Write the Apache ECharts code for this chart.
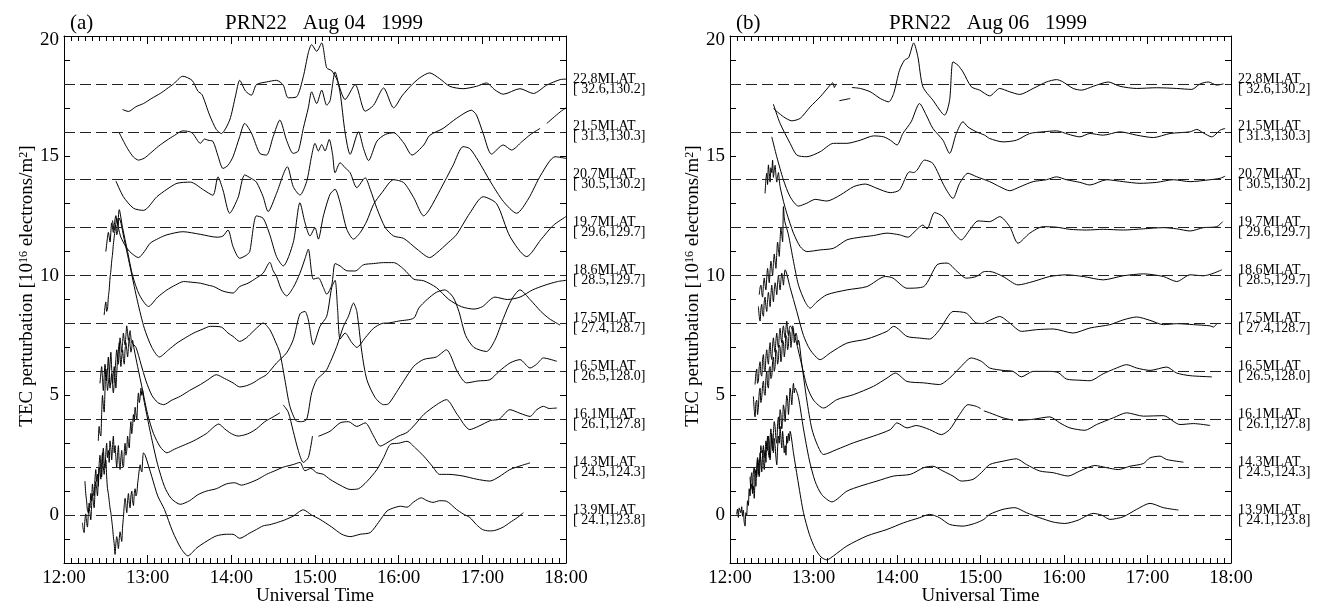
<!DOCTYPE html>
<html><head><meta charset="utf-8">
<script src="https://cdn.jsdelivr.net/npm/echarts@6/dist/echarts.min.js"></script>
<style>html,body{margin:0;padding:0;background:#fff}#c{width:1325px;height:608px}</style>
</head><body><div id="c"></div>
<script>
const hours = [12,13,14,15,16,17,18];
const hourLabels = ['12:00','13:00','14:00','15:00','16:00','17:00','18:00'];
const yTickLabels = [0,5,10,15,20];
const baselines = [0,2,4,6,8,10,12,14,16,18];
const stationLabels = ['13.9MLAT\n[ 24.1,123.8]','14.3MLAT\n[ 24.5,124.3]','16.1MLAT\n[ 26.1,127.8]','16.5MLAT\n[ 26.5,128.0]','17.5MLAT\n[ 27.4,128.7]','18.6MLAT\n[ 28.5,129.7]','19.7MLAT\n[ 29.6,129.7]','20.7MLAT\n[ 30.5,130.2]','21.5MLAT\n[ 31.3,130.3]','22.8MLAT\n[ 32.6,130.2]'];
const panelLetters = ['(a)','(b)'];
const panelTitles = ['PRN22   Aug 04   1999','PRN22   Aug 06   1999'];
const yName = 'TEC perturbation [10{sup|16} electrons/m{sup|2}]';
const xName = 'Universal Time';

// ---- Panel (a): Aug 04 ----
const a139 = [[12.22,-0.32],[12.23,-0.6],[12.24,-0.73],[12.25,-0.2],[12.26,0.05],[12.27,-0.3],[12.28,-0.5],[12.29,0.0],[12.30,0.3],[12.31,0.1],[12.32,-0.2],[12.33,0.4],[12.34,0.9],[12.35,0.6],[12.36,0.3],[12.37,0.9],[12.38,1.4],[12.39,1.1],[12.40,0.8],[12.41,1.5],[12.42,2.0],[12.43,1.8],[12.44,1.5],[12.45,2.2],[12.46,2.6],[12.47,2.0],[12.48,1.7],[12.49,2.1],[12.50,2.3],[12.51,1.6],[12.52,1.1],[12.53,0.9],[12.54,0.6],[12.55,0.3],[12.56,0.1],[12.57,-0.2],[12.58,-0.5],[12.59,-0.9],[12.60,-1.2],[12.61,-1.64],[12.62,-1.2],[12.63,-0.9],[12.64,-1.1],[12.65,-1.4],[12.66,-1.0],[12.67,-0.7],[12.68,-0.9],[12.69,-1.1],[12.70,-0.5],[12.71,-0.1],[12.72,0.4],[12.73,0.7],[12.74,0.4],[12.75,0.1],[12.76,0.6],[12.77,0.9],[12.78,0.5],[12.79,0.3],[12.80,0.8],[12.81,1.0],[12.82,0.6],[12.83,0.4],[12.84,0.9],[12.85,1.1],[12.86,0.8],[12.87,0.9],[12.88,1.3],[12.89,1.6],[12.90,1.9],[12.91,2.1],[12.92,1.9],[12.93,1.8],[12.94,2.3],[12.95,2.6],[12.97,2.5],[13.05,1.6],[13.12,0.8],[13.2,0.24],[13.3,-0.7],[13.4,-1.4],[13.48,-1.7],[13.59,-1.36],[13.71,-1.08],[13.82,-0.87],[13.94,-0.8],[14.02,-0.8],[14.10,-0.97],[14.22,-0.75],[14.30,-0.6],[14.38,-0.45],[14.46,-0.4],[14.54,-0.32],[14.64,-0.2],[14.74,-0.04],[14.86,0.22],[14.96,0.0],[15.06,-0.18],[15.2,-0.5],[15.32,-0.8],[15.42,-0.9],[15.54,-0.8],[15.66,-0.73],[15.76,-0.3],[15.86,0.17],[15.94,0.3],[16.02,0.37],[16.1,0.33],[16.18,0.55],[16.27,0.72],[16.34,0.6],[16.41,0.53],[16.49,0.6],[16.57,0.58],[16.69,0.24],[16.77,0.05],[16.85,-0.1],[16.93,-0.4],[17.0,-0.6],[17.08,-0.66],[17.15,-0.64],[17.25,-0.5],[17.33,-0.31],[17.42,-0.1],[17.49,0.1]];
const a143 = [[12.25,1.42],[12.26,0.9],[12.27,0.6],[12.28,0.2],[12.29,0.1],[12.30,0.5],[12.31,0.3],[12.32,0.9],[12.33,0.6],[12.34,1.3],[12.35,1.0],[12.36,0.8],[12.37,1.5],[12.38,1.9],[12.39,1.4],[12.40,1.7],[12.41,1.2],[12.42,2.1],[12.43,2.5],[12.44,1.9],[12.45,1.6],[12.46,2.3],[12.47,2.8],[12.48,2.2],[12.49,2.0],[12.50,2.6],[12.51,3.0],[12.52,2.4],[12.53,2.7],[12.54,2.2],[12.55,3.1],[12.56,2.8],[12.57,2.3],[12.58,2.9],[12.59,3.3],[12.60,2.6],[12.61,2.9],[12.62,2.4],[12.63,2.0],[12.64,2.5],[12.65,2.9],[12.66,2.2],[12.67,1.9],[12.68,2.4],[12.69,2.7],[12.70,2.1],[12.71,2.0],[12.72,2.6],[12.73,3.0],[12.74,2.5],[12.75,2.7],[12.76,3.3],[12.77,3.0],[12.78,2.8],[12.79,3.5],[12.80,3.9],[12.81,3.4],[12.82,3.7],[12.83,4.2],[12.84,3.9],[12.85,4.5],[12.86,4.2],[12.87,4.0],[12.88,4.7],[12.89,5.1],[12.90,4.7],[12.91,4.9],[12.92,5.3],[12.93,5.0],[12.94,5.2],[12.95,4.9],[13.0,4.0],[13.06,3.0],[13.12,2.1],[13.2,1.2],[13.28,0.7],[13.39,0.45],[13.5,0.6],[13.6,0.85],[13.7,1.0],[13.82,1.1],[13.94,1.3],[14.04,1.35],[14.12,1.25],[14.22,1.35],[14.32,1.5],[14.42,1.7],[14.52,1.85],[14.62,2.0],[14.74,2.11],[14.82,2.2],[14.88,1.85],[14.95,1.95],[15.02,1.77],[15.1,1.7],[15.18,1.49],[15.3,1.25],[15.42,1.07],[15.52,1.1],[15.62,1.4],[15.74,1.9],[15.82,2.4],[15.9,2.95],[16.0,3.0],[16.1,3.08],[16.2,2.8],[16.3,2.46],[16.4,2.05],[16.49,1.7],[16.6,1.7],[16.77,1.63],[16.93,1.5],[17.09,1.42],[17.2,1.6],[17.33,1.9],[17.45,2.05],[17.57,2.18]];
const a161 = [[12.41,3.1],[12.42,3.7],[12.43,3.4],[12.44,3.3],[12.45,4.2],[12.46,5.0],[12.47,4.6],[12.48,4.3],[12.49,5.2],[12.50,6.1],[12.51,5.7],[12.52,5.2],[12.53,5.5],[12.54,5.8],[12.55,6.3],[12.56,6.8],[12.57,6.1],[12.58,5.5],[12.59,5.9],[12.60,6.2],[12.61,5.8],[12.62,5.3],[12.63,5.9],[12.64,6.5],[12.65,6.9],[12.66,7.2],[12.67,6.7],[12.68,6.2],[12.69,6.6],[12.70,6.9],[12.71,6.5],[12.72,6.3],[12.73,6.9],[12.74,7.2],[12.75,6.9],[12.76,6.6],[12.77,7.0],[12.78,7.4],[12.79,7.1],[12.80,6.8],[12.81,7.0],[12.82,7.3],[12.83,7.1],[12.84,6.9],[12.88,6.2],[12.94,5.2],[13.0,4.2],[13.07,3.4],[13.15,2.85],[13.23,2.6],[13.32,2.75],[13.42,2.9],[13.55,3.1],[13.7,3.4],[13.85,3.8],[13.92,3.6],[14.0,3.4],[14.08,3.3],[14.16,3.35],[14.22,3.43],[14.3,3.6],[14.4,3.9],[14.5,4.1],[14.58,4.27],null,[14.62,4.6],[14.68,4.3],[14.74,3.5],[14.8,2.7],[14.86,2.2],[14.92,2.4],[14.97,3.3],null,[15.04,3.29],[15.18,3.5],[15.30,3.85],[15.4,3.9],[15.5,3.7],[15.6,3.85],[15.7,3.3],[15.78,2.88],[15.9,3.1],[16.0,3.3],[16.1,3.45],[16.2,3.8],[16.3,4.2],[16.45,4.6],[16.57,4.82],[16.7,4.2],[16.85,3.57],[16.95,3.7],[17.1,3.95],[17.2,4.0],[17.33,4.4],[17.45,4.25],[17.57,4.12],[17.65,4.4],[17.73,4.54],[17.8,4.45],[17.89,4.47]];
const a165 = [[12.43,5.5],[12.44,5.9],[12.45,6.2],[12.46,5.7],[12.47,5.2],[12.48,5.8],[12.49,6.3],[12.50,6.0],[12.51,5.6],[12.52,6.1],[12.53,6.6],[12.54,5.9],[12.55,5.3],[12.56,5.6],[12.57,5.9],[12.58,5.4],[12.59,5.1],[12.60,5.5],[12.61,6.0],[12.62,6.5],[12.63,6.9],[12.64,6.6],[12.65,6.3],[12.66,6.9],[12.67,7.4],[12.68,7.1],[12.69,6.8],[12.70,7.2],[12.71,7.6],[12.72,7.3],[12.73,7.1],[12.74,7.5],[12.75,7.9],[12.76,7.6],[12.77,7.3],[12.78,7.5],[12.79,7.7],[12.80,7.4],[12.81,7.2],[12.86,7.0],[12.92,6.3],[12.98,5.6],[13.05,5.0],[13.12,4.7],[13.19,4.61],[13.29,4.8],[13.39,4.96],[13.5,5.2],[13.63,5.45],[13.72,5.65],[13.82,5.86],[13.92,5.7],[14.02,5.52],[14.10,5.35],[14.18,5.4],[14.26,5.52],[14.34,5.7],[14.42,5.86],[14.54,6.35],[14.66,6.77],[14.74,7.32],[14.82,8.4],[14.88,8.5],[14.92,8.15],[14.98,7.11],[15.06,7.88],[15.14,8.3],[15.2,9.5],[15.24,9.8],[15.27,8.6],[15.30,7.35],[15.36,7.6],[15.44,7.2],[15.5,7.0],[15.6,7.4],[15.7,7.8],[15.8,8.0],[15.88,8.02],[16.0,8.1],[16.18,8.22],[16.24,8.64],[16.34,9.0],[16.45,9.3],[16.55,9.4],[16.65,9.1],[16.72,8.5],[16.8,7.5],[16.9,7.0],[17.05,6.83],[17.15,7.3],[17.25,8.2],[17.35,9.0],[17.45,9.4],[17.57,9.0],[17.7,8.5],[17.8,8.2],[17.93,7.93]];
const a175 = [[12.48,8.35],[12.49,8.7],[12.50,8.9],[12.51,8.5],[12.52,8.6],[12.53,9.1],[12.54,9.4],[12.55,9.9],[12.56,10.2],[12.57,10.6],[12.58,10.9],[12.59,11.3],[12.60,11.6],[12.61,11.9],[12.62,12.1],[12.63,11.7],[12.64,11.8],[12.65,12.2],[12.66,12.4],[12.72,11.5],[12.8,10.2],[12.88,8.9],[12.96,7.8],[13.05,7.0],[13.14,6.6],[13.25,6.9],[13.35,7.18],[13.45,7.4],[13.55,7.6],[13.65,7.75],[13.75,7.88],[13.88,7.85],[13.96,7.6],[14.02,7.46],[14.10,7.25],[14.18,7.4],[14.22,7.53],[14.3,7.8],[14.38,8.02],[14.46,7.74],[14.52,7.3],[14.58,6.77],[14.64,5.65],[14.70,4.54],[14.78,3.92],[14.84,3.9],[14.9,3.99],[14.96,5.1],[15.02,5.65],[15.08,5.85],[15.14,6.07],[15.26,7.04],[15.34,7.88],[15.40,8.3],[15.46,8.85],[15.5,8.5],[15.56,6.8],[15.62,5.65],[15.72,4.9],[15.82,4.61],[15.88,4.65],[16.02,5.38],[16.18,6.21],[16.3,6.5],[16.45,6.6],[16.57,6.9],[16.7,6.0],[16.81,5.52],[16.95,5.6],[17.09,5.65],[17.2,6.0],[17.33,6.35],[17.45,6.49],[17.57,6.14],[17.65,6.3],[17.73,6.56],[17.89,6.42]];
const a186 = [[12.50,11.0],[12.52,11.6],[12.53,11.8],[12.55,11.4],[12.57,12.2],[12.59,11.8],[12.60,12.1],[12.62,12.5],[12.64,12.1],[12.66,12.75],[12.7,12.0],[12.76,11.0],[12.82,10.0],[12.9,9.2],[13.01,8.71],[13.12,9.1],[13.23,9.4],[13.33,9.6],[13.43,9.75],[13.53,9.72],[13.63,9.68],[13.72,9.6],[13.79,9.54],[13.9,9.35],[14.02,9.27],[14.10,9.54],[14.2,9.68],[14.3,9.9],[14.38,10.1],[14.46,10.55],[14.5,10.2],[14.54,9.96],[14.6,9.4],[14.66,9.15],[14.74,9.5],[14.82,10.1],[14.88,10.7],[14.92,11.1],[14.98,9.85],[15.04,9.9],[15.1,9.5],[15.14,9.22],[15.2,9.6],[15.24,10.5],[15.3,10.4],[15.38,10.2],[15.48,10.19],[15.58,10.45],[15.7,10.5],[15.82,10.54],[15.94,10.54],[16.06,10.27],[16.18,9.85],[16.30,9.78],[16.45,9.5],[16.6,9.0],[16.75,8.7],[16.9,8.6],[17.0,8.7],[17.15,9.1],[17.3,9.0],[17.45,9.1],[17.6,9.4],[17.75,9.6],[17.9,9.75],[18.0,9.8]];
const a197 = [[12.58,12.3],[12.60,11.9],[12.62,12.2],[12.63,12.4],[12.65,12.0],[12.68,11.6],[12.74,11.2],[12.8,10.95],[12.89,10.75],[12.96,11.0],[13.03,11.35],[13.13,11.55],[13.23,11.7],[13.42,11.83],[13.63,11.72],[13.83,11.6],[13.9,11.65],[13.96,11.9],[14.02,11.21],[14.10,10.72],[14.18,10.85],[14.22,11.0],[14.30,12.49],[14.38,12.39],[14.46,11.7],[14.54,10.79],[14.62,10.4],[14.74,11.38],[14.82,13.04],[14.88,12.21],[14.94,11.65],[15.0,12.0],[15.04,11.52],[15.10,12.49],[15.18,13.39],[15.24,13.6],[15.30,13.04],[15.38,11.93],[15.46,11.52],[15.54,11.79],[15.62,12.28],[15.70,12.97],[15.80,13.46],[15.94,14.0],[16.06,13.88],[16.18,13.25],[16.30,12.49],[16.37,12.77],[16.5,13.6],[16.65,14.6],[16.77,15.38],[16.85,15.3],[16.95,14.8],[17.1,13.9],[17.25,13.1],[17.41,12.6],[17.55,13.2],[17.7,14.2],[17.87,14.96],[18.0,14.89]];
const a207 = [[12.62,13.95],[12.71,13.29],[12.83,12.81],[12.95,12.72],[13.11,13.29],[13.23,13.6],[13.35,13.85],[13.51,13.9],[13.67,13.57],[13.78,13.35],[13.84,14.12],[13.9,13.57],[13.98,12.6],[14.08,13.25],[14.16,14.2],[14.24,14.05],[14.30,13.9],[14.38,13.29],[14.44,12.67],[14.54,13.43],[14.67,14.54],[14.74,13.71],[14.82,13.36],[14.90,13.92],[14.96,15.0],[15.0,15.52],[15.04,15.2],[15.08,15.47],[15.12,15.2],[15.17,15.68],[15.21,15.06],[15.24,14.29],[15.30,14.71],[15.36,14.5],[15.42,14.29],[15.50,13.67],[15.60,14.08],[15.66,13.6],[15.74,12.8],[15.84,12.0],[15.94,11.65],[16.06,11.55],[16.22,11.1],[16.37,10.75],[16.45,10.93],[16.6,11.4],[16.69,11.7],[16.85,12.6],[17.01,13.29],[17.17,13.0],[17.33,11.63],[17.53,10.79],[17.7,11.5],[17.85,12.1],[18.0,12.46]];
const a215 = [[12.66,15.96],[12.72,15.55],[12.77,15.24],[12.83,14.95],[12.89,14.82],[12.96,14.9],[13.03,15.1],[13.13,15.4],[13.23,15.65],[13.32,15.85],[13.42,16.04],[13.53,15.96],[13.63,15.52],[13.68,15.7],[13.72,15.65],[13.78,15.6],[13.84,15.0],[13.90,14.47],[13.96,14.6],[14.02,14.96],[14.1,15.8],[14.16,16.35],[14.24,15.95],[14.34,15.1],[14.42,15.03],[14.5,15.8],[14.58,16.49],[14.66,15.65],[14.74,15.1],[14.8,15.2],[14.86,16.14],[14.92,17.0],[14.96,17.67],[15.02,17.18],[15.08,17.74],[15.14,17.11],[15.18,17.3],[15.24,18.5],[15.30,17.63],[15.36,15.96],[15.42,15.06],[15.52,16.0],[15.58,15.3],[15.64,14.8],[15.74,15.61],[15.84,15.89],[15.94,15.96],[16.06,15.54],[16.16,15.03],[16.30,15.45],[16.37,15.85],[16.53,16.14],[16.69,16.56],[16.87,16.9],[16.93,16.7],[17.01,15.93],[17.11,15.07],[17.25,15.45],[17.35,15.24],[17.47,15.58],[17.58,15.9],[17.69,16.14],null,[17.77,16.35],[17.93,16.83],[18.0,17.0]];
const a228 = [[12.70,16.93],[12.77,16.85],[12.86,17.05],[12.95,17.18],[13.05,17.4],[13.15,17.6],[13.23,17.8],[13.31,18.0],[13.42,18.32],[13.53,18.15],[13.60,17.7],[13.65,17.55],[13.74,16.7],[13.82,16.1],[13.88,15.93],[13.98,16.49],[14.05,17.5],[14.10,18.15],[14.17,17.7],[14.24,17.53],[14.30,17.97],[14.42,18.08],[14.54,18.15],[14.62,17.95],[14.68,17.42],[14.78,17.46],[14.86,18.3],[14.92,19.3],[14.96,19.64],[15.02,19.36],[15.08,19.71],[15.14,18.67],[15.2,18.55],[15.26,18.2],[15.36,17.35],[15.48,17.97],[15.6,16.86],[15.7,17.11],[15.82,17.83],[15.94,17.0],[16.04,17.5],[16.14,17.9],[16.25,18.25],[16.37,18.46],[16.49,18.22],[16.61,17.9],[16.77,17.8],[16.93,17.9],[17.05,18.04],[17.15,17.75],[17.25,17.57],[17.45,17.8],[17.61,17.6],[17.77,17.95],[17.93,18.18],[18.0,18.2]];

// ---- Panel (b): Aug 06 ----
const b139 = [[12.08,0.03],[12.09,0.25],[12.10,-0.1],[12.11,0.3],[12.13,0.1],[12.14,0.35],[12.15,-0.05],[12.16,0.2],[12.17,-0.3],[12.18,-0.46],[12.19,0.1],[12.20,0.0],[12.21,0.6],[12.22,0.4],[12.23,1.1],[12.24,0.8],[12.25,1.5],[12.26,1.77],[12.27,1.0],[12.28,1.2],[12.29,0.7],[12.30,1.5],[12.31,1.9],[12.32,1.6],[12.33,2.3],[12.34,1.7],[12.35,2.0],[12.36,2.6],[12.37,2.3],[12.38,1.8],[12.39,2.5],[12.40,2.9],[12.41,2.4],[12.42,2.7],[12.43,2.2],[12.44,3.0],[12.45,2.7],[12.46,3.3],[12.47,2.9],[12.48,2.3],[12.49,2.8],[12.50,3.4],[12.51,3.0],[12.52,2.6],[12.53,3.2],[12.54,2.9],[12.55,2.4],[12.56,2.1],[12.57,2.8],[12.58,3.3],[12.59,3.0],[12.60,3.7],[12.61,3.2],[12.62,2.8],[12.63,3.5],[12.64,3.1],[12.65,2.6],[12.66,2.9],[12.67,2.5],[12.68,3.3],[12.69,3.0],[12.70,3.4],[12.71,3.1],[12.72,3.5],[12.76,2.6],[12.82,1.3],[12.88,0.1],[12.95,-0.8],[13.02,-1.4],[13.09,-1.75],[13.16,-1.87],[13.24,-1.7],[13.4,-1.29],[13.64,-0.87],[13.88,-0.6],[14.08,-0.32],[14.27,-0.11],[14.39,0.03],[14.51,-0.11],[14.63,-0.39],[14.79,-0.46],[14.93,-0.35],[15.04,-0.18],[15.11,0.03],[15.27,0.24],[15.41,0.31],[15.55,0.1],[15.71,-0.11],[15.87,-0.29],[16.01,-0.35],[16.17,-0.21],[16.35,0.07],[16.45,0.0],[16.55,-0.18],[16.71,-0.07],[16.87,0.24],[17.03,0.49],[17.19,0.31],[17.37,0.21]];
const b143 = [[12.24,1.6],[12.25,1.1],[12.26,1.3],[12.27,0.9],[12.28,1.8],[12.29,2.0],[12.30,1.5],[12.31,1.2],[12.32,2.0],[12.33,2.4],[12.34,2.2],[12.35,1.6],[12.36,2.1],[12.37,2.9],[12.38,2.6],[12.39,2.7],[12.40,2.2],[12.41,1.9],[12.42,2.5],[12.43,3.1],[12.44,2.9],[12.45,3.3],[12.46,2.6],[12.47,2.4],[12.48,3.2],[12.49,3.6],[12.50,3.0],[12.51,2.7],[12.52,3.4],[12.53,3.9],[12.54,3.7],[12.55,3.2],[12.56,3.0],[12.57,3.8],[12.58,4.1],[12.59,3.6],[12.60,4.4],[12.61,4.2],[12.62,3.6],[12.63,3.9],[12.64,4.6],[12.65,4.4],[12.66,3.9],[12.67,4.5],[12.68,5.0],[12.69,4.8],[12.70,4.2],[12.71,4.7],[12.72,5.3],[12.73,5.0],[12.74,4.6],[12.75,5.2],[12.76,5.5],[12.77,5.1],[12.78,5.3],[12.82,4.9],[12.88,3.6],[12.95,2.3],[13.02,1.4],[13.1,0.85],[13.22,0.55],[13.4,1.0],[13.56,1.21],[13.76,1.42],[13.96,1.63],[14.16,1.7],[14.32,1.98],[14.43,2.04],[14.55,1.84],[14.67,1.63],[14.77,1.42],[14.91,1.49],[15.01,1.77],[15.11,2.11],[15.27,2.25],[15.43,2.35],[15.55,2.11],[15.71,1.84],[15.87,1.77],[16.05,1.63],[16.19,1.84],[16.37,2.07],[16.51,1.98],[16.65,1.9],[16.79,2.04],[16.95,2.15],[17.03,2.39],[17.15,2.46],[17.23,2.32],[17.43,2.21]];
const b161 = [[12.28,4.96],[12.29,4.4],[12.30,4.1],[12.31,4.7],[12.32,4.8],[12.33,4.2],[12.34,4.5],[12.35,5.1],[12.36,5.3],[12.37,4.7],[12.38,4.9],[12.39,5.4],[12.40,5.6],[12.41,5.1],[12.42,5.0],[12.43,5.7],[12.44,6.0],[12.45,5.4],[12.46,5.3],[12.47,6.1],[12.48,6.2],[12.49,5.7],[12.50,5.8],[12.51,6.4],[12.52,6.6],[12.53,6.0],[12.54,6.2],[12.55,6.9],[12.56,6.8],[12.57,6.3],[12.58,6.5],[12.59,7.1],[12.60,7.0],[12.61,6.4],[12.62,6.7],[12.63,7.3],[12.64,7.2],[12.65,6.6],[12.66,6.9],[12.67,7.5],[12.68,7.4],[12.69,6.9],[12.70,7.1],[12.71,7.7],[12.72,7.6],[12.73,7.0],[12.74,7.3],[12.75,7.9],[12.76,7.8],[12.77,7.2],[12.78,7.4],[12.79,7.6],[12.80,7.5],[12.81,7.1],[12.82,7.3],[12.86,6.3],[12.92,4.8],[12.98,3.6],[13.05,2.9],[13.12,2.53],[13.28,2.74],[13.48,3.02],[13.72,3.3],[13.92,3.57],[14.0,3.85],[14.12,3.64],[14.23,3.74],[14.39,3.57],[14.53,3.36],[14.63,3.57],[14.75,4.2],[14.85,4.61],[14.95,4.54],[15.0,4.45],null,[15.04,4.35],[15.11,4.27],[15.27,4.06],[15.39,3.96],null,[15.45,3.95],[15.63,4.0],[15.83,4.1],[15.95,3.85],[16.07,3.64],[16.25,3.54],[16.39,3.78],[16.59,4.06],[16.75,4.27],[16.95,4.13],[17.19,4.15],[17.39,3.78],[17.55,3.82],[17.75,3.74]];
const b165 = [[12.30,5.45],[12.31,5.9],[12.32,6.1],[12.33,5.5],[12.34,5.6],[12.35,6.2],[12.36,6.4],[12.37,5.9],[12.38,5.8],[12.39,6.5],[12.40,6.7],[12.41,6.1],[12.42,6.0],[12.43,6.6],[12.44,6.9],[12.45,6.5],[12.46,6.3],[12.47,6.9],[12.48,7.2],[12.49,6.7],[12.50,6.5],[12.51,7.1],[12.52,7.4],[12.53,7.0],[12.54,6.8],[12.55,7.3],[12.56,7.6],[12.57,7.2],[12.58,7.0],[12.59,7.5],[12.60,7.8],[12.61,7.4],[12.62,7.2],[12.63,7.7],[12.64,7.9],[12.65,7.6],[12.66,7.4],[12.67,7.8],[12.68,8.1],[12.69,7.7],[12.70,7.5],[12.71,7.8],[12.72,7.9],[12.78,7.4],[12.85,6.4],[12.92,5.4],[13.0,4.8],[13.12,4.47],[13.28,4.82],[13.48,5.03],[13.72,5.38],[13.88,5.72],[13.98,5.93],[14.12,5.58],[14.32,5.52],[14.51,5.45],[14.63,5.72],[14.75,6.14],[14.89,6.56],[15.01,6.42],[15.11,6.14],[15.27,6.04],[15.39,6.0],[15.49,5.77],[15.63,6.0],[15.83,6.0],[15.93,5.95],[16.03,5.68],[16.19,5.63],[16.31,5.61],[16.47,5.9],[16.63,6.14],[16.75,6.28],[16.87,6.14],[17.03,6.04],[17.23,6.18],[17.35,5.93],[17.51,5.82],[17.77,5.77]];
const b175 = [[12.34,8.71],[12.35,8.3],[12.36,8.1],[12.37,8.6],[12.38,8.8],[12.39,8.4],[12.40,8.3],[12.41,8.9],[12.42,9.1],[12.43,8.7],[12.44,8.5],[12.45,9.0],[12.46,9.3],[12.47,9.0],[12.48,8.7],[12.49,9.2],[12.50,9.6],[12.51,9.2],[12.52,8.9],[12.53,9.4],[12.54,9.7],[12.55,9.5],[12.56,9.2],[12.57,9.7],[12.58,10.0],[12.59,9.7],[12.60,9.4],[12.61,9.8],[12.62,10.1],[12.63,9.9],[12.64,9.6],[12.65,10.0],[12.66,10.24],[12.72,9.5],[12.8,8.5],[12.88,7.5],[12.96,6.9],[13.08,6.49],[13.2,6.77],[13.4,7.18],[13.64,7.35],[13.88,7.67],[13.96,7.88],[14.12,7.46],[14.27,7.39],[14.39,7.35],[14.51,7.74],[14.61,8.29],[14.67,8.5],[14.83,8.43],[14.95,8.02],[15.03,8.0],[15.11,8.13],[15.23,8.29],[15.35,8.02],[15.49,7.67],[15.67,7.74],[15.87,7.77],[16.11,7.6],[16.31,7.81],[16.55,7.95],[16.71,8.15],[16.87,8.27],[17.03,8.13],[17.19,7.95],[17.35,7.99],[17.55,7.95],[17.75,7.9],[17.79,7.85],[17.83,7.99]];
const b186 = [[12.35,9.2],[12.36,9.5],[12.37,9.6],[12.38,9.3],[12.39,9.1],[12.40,9.6],[12.41,9.9],[12.42,9.6],[12.43,9.4],[12.44,9.9],[12.45,10.3],[12.46,10.0],[12.47,9.7],[12.48,10.2],[12.49,10.6],[12.50,10.3],[12.51,10.0],[12.52,10.5],[12.53,10.9],[12.54,10.6],[12.55,10.3],[12.56,10.9],[12.57,11.4],[12.58,11.1],[12.59,10.8],[12.60,11.5],[12.61,12.0],[12.62,11.7],[12.63,11.4],[12.64,12.88],[12.65,12.4],[12.66,12.2],[12.70,11.7],[12.76,10.6],[12.82,9.6],[12.90,8.9],[12.96,8.64],[13.04,8.9],[13.16,9.2],[13.4,9.4],[13.64,9.54],[13.86,9.96],[13.95,9.9],[14.12,9.47],[14.32,9.54],[14.48,10.45],[14.6,10.52],[14.72,10.17],[14.83,9.89],[14.95,9.96],[15.05,10.17],[15.11,10.17],[15.27,9.96],[15.45,9.61],[15.63,9.75],[15.83,9.96],[16.03,10.03],[16.23,9.96],[16.47,9.82],[16.71,9.99],[16.95,10.07],[17.19,9.96],[17.35,9.75],[17.51,10.03],[17.67,9.99],[17.77,10.07],[17.89,10.24]];
const b197 = [[12.42,13.43],[12.43,14.0],[12.44,14.27],[12.45,13.8],[12.46,14.62],[12.47,14.3],[12.48,13.9],[12.49,14.5],[12.50,14.3],[12.51,14.82],[12.52,14.1],[12.53,14.4],[12.54,14.6],[12.55,14.2],[12.56,13.9],[12.57,14.1],[12.58,14.3],[12.59,14.0],[12.60,13.71],[12.64,13.1],[12.68,12.6],[12.76,11.77],[12.84,11.21],[12.92,11.0],[13.08,11.07],[13.24,11.14],[13.4,11.49],[13.56,11.6],[13.72,11.67],[13.88,11.77],[14.03,11.7],[14.13,11.6],[14.23,11.9],[14.31,12.11],[14.36,11.95],[14.45,12.63],[14.55,12.46],[14.67,11.83],[14.77,11.49],[14.87,11.9],[14.97,12.28],[15.11,12.25],[15.23,12.46],[15.35,12.04],[15.45,11.35],[15.59,11.77],[15.75,12.04],[15.91,12.02],[16.07,11.93],[16.27,11.9],[16.47,11.93],[16.71,11.9],[16.95,11.95],[17.19,12.0],[17.35,11.95],[17.51,11.86],[17.67,12.0],[17.83,12.04],[17.9,12.25]];
const b207 = [[12.50,15.79],[12.56,14.96],[12.64,13.99],[12.72,13.29],[12.82,12.9],[12.92,13.02],[13.02,13.18],[13.16,13.11],[13.32,13.36],[13.48,13.71],[13.62,13.82],[13.76,13.64],[13.92,13.46],[14.03,13.57],[14.15,14.33],[14.2,14.3],[14.24,14.4],[14.33,14.82],[14.43,14.68],[14.57,13.71],[14.67,13.22],[14.75,13.85],[14.85,14.27],[14.95,14.13],[15.11,13.92],[15.23,13.71],[15.35,13.54],[15.47,13.7],[15.63,13.92],[15.79,14.0],[15.91,14.12],[16.03,14.0],[16.19,13.89],[16.31,13.78],[16.51,14.0],[16.71,13.92],[16.91,13.85],[17.11,13.89],[17.31,14.0],[17.51,13.92],[17.75,14.0],[17.87,14.06],[17.93,14.15]];
const b215 = [[12.52,17.15],[12.60,16.35],[12.72,15.52],[12.80,15.03],[12.92,14.96],[13.08,15.17],[13.24,15.52],[13.4,15.52],[13.56,15.65],[13.72,15.83],[13.84,15.79],[13.92,15.65],[14.0,15.45],[14.07,15.93],[14.17,16.42],[14.27,17.18],[14.35,16.7],[14.43,16.14],[14.55,15.65],[14.63,15.1],[14.71,15.93],[14.79,16.42],[14.85,16.2],[14.95,16.0],[15.05,15.86],[15.11,15.72],[15.27,15.58],[15.43,15.65],[15.59,15.93],[15.75,16.0],[15.91,16.04],[16.05,15.9],[16.19,15.79],[16.31,15.93],[16.47,15.86],[16.67,16.0],[16.87,15.86],[17.07,15.76],[17.27,15.93],[17.51,16.0],[17.59,16.1],[17.67,15.95],[17.77,15.79],[17.87,16.07],[17.93,16.14]];
const b228 = [[12.52,16.97],[12.64,16.63],[12.74,16.46],[12.84,16.56],[12.96,17.04],[13.08,17.46],[13.2,17.95],[13.23,18.05],[13.25,17.85],[13.27,18.0],null,[13.31,17.3],[13.44,17.39],null,[13.46,17.85],[13.56,17.81],[13.68,17.67],[13.8,17.39],[13.9,17.25],[13.96,17.6],[14.03,18.57],[14.09,18.99],[14.14,19.1],[14.2,19.71],[14.25,19.13],[14.31,17.88],[14.43,17.32],[14.57,16.7],[14.63,17.32],[14.67,18.92],[14.73,18.78],[14.79,18.5],[14.89,17.88],[14.99,17.74],[15.11,17.5],[15.23,17.81],[15.35,17.67],[15.47,17.56],[15.63,17.81],[15.79,18.08],[15.91,18.18],[15.98,18.1],[16.11,17.81],[16.21,17.74],[16.35,17.9],[16.53,18.08],[16.67,17.9],[16.87,17.81],[17.11,17.84],[17.35,17.81],[17.53,17.77],[17.63,18.0],[17.73,18.08],[17.83,17.95],[17.91,18.0]];

const panelA = [a139,a143,a161,a165,a175,a186,a197,a207,a215,a228];
const panelB = [b139,b143,b161,b165,b175,b186,b197,b207,b215,b228];

const FONT = 'Liberation Serif';
const grids = [
  {left: 64, top: 36, width: 502, height: 527, outerBoundsMode: 'none', containLabel: false},
  {left: 730, top: 36, width: 501, height: 527, outerBoundsMode: 'none', containLabel: false}
];
const titleCenterX = [324, 988];
const letterX = [70, 736];
const yNameX = [27, 693];

function toData(arr) {
  const out = [];
  let last = 12;
  for (const p of arr) {
    if (p === null) { out.push([last, '-']); }
    else { out.push(p); last = p[0]; }
  }
  return out;
}

const xAxes = [], yAxes = [], series = [], graphics = [];
grids.forEach((g, gi) => {
  const base = {
    gridIndex: gi, type: 'value', min: 12, max: 18, interval: 1,
    axisLine: {show: true, onZero: false, lineStyle: {color: '#000', width: 1}},
    axisTick: {show: true, inside: true, length: 8, lineStyle: {color: '#000', width: 1}},
    minorTick: {show: true, splitNumber: 12, length: 5, lineStyle: {color: '#000', width: 1}},
    splitLine: {show: false}, minorSplitLine: {show: false}
  };
  xAxes.push(Object.assign({}, base, {
    position: 'bottom',
    axisLabel: {show: true, margin: 6, color: '#000', fontFamily: FONT, fontSize: 19,
      formatter: v => hourLabels[hours.indexOf(v)] || ''},
    name: xName, nameLocation: 'middle', nameGap: 24, nameMoveOverlap: false,
    nameTextStyle: {color: '#000', fontFamily: FONT, fontSize: 19}
  }));
  xAxes.push(Object.assign({}, base, {position: 'top', axisLabel: {show: false}}));
  const ybase = {
    gridIndex: gi, type: 'value', min: -2, max: 20, interval: 1,
    axisLine: {show: true, onZero: false, lineStyle: {color: '#000', width: 1}},
    axisTick: {show: true, inside: true, length: 6, lineStyle: {color: '#000', width: 1}},
    splitLine: {show: false}
  };
  yAxes.push(Object.assign({}, ybase, {
    position: 'left',
    axisLabel: {show: true, margin: 5, color: '#000', fontFamily: FONT, fontSize: 19,
      formatter: v => yTickLabels.indexOf(v) < 0 ? '' : (v === 20 ? '{top|20}' : String(v)),
      rich: {top: {fontFamily: FONT, fontSize: 19, color: '#000', padding: [8, 0, 0, 0]}}}
  }));
  yAxes.push(Object.assign({}, ybase, {
    position: 'right',
    axisLabel: {show: true, margin: 7, color: '#000', fontFamily: FONT, fontSize: 14, lineHeight: 10,
      formatter: v => { const i = baselines.indexOf(v); return i >= 0 ? stationLabels[i] : ''; }}
  }));
  const curves = gi === 0 ? panelA : panelB;
  curves.forEach((c, ci) => {
    const s = {
      type: 'line', xAxisIndex: gi * 2, yAxisIndex: gi * 2,
      data: toData(c), showSymbol: false, symbol: 'none', connectNulls: false,
      smooth: 0.25,
      lineStyle: {color: '#000', width: 1}, silent: true, animation: false, z: 3
    };
    if (ci === 0) {
      s.markLine = {silent: true, symbol: ['none', 'none'], animation: false,
        label: {show: false},
        lineStyle: {type: [11, 5], color: '#222', width: 1},
        data: baselines.map(b => ({yAxis: b}))};
    }
    series.push(s);
  });
  graphics.push({type: 'text', left: letterX[gi], top: 13,
    style: {text: panelLetters[gi], font: '21px "Liberation Serif"', fill: '#000'}});
  graphics.push({type: 'text', x: titleCenterX[gi], y: 23,
    style: {text: panelTitles[gi], font: '21px "Liberation Serif"', fill: '#000', align: 'center', verticalAlign: 'middle'}});
  graphics.push({type: 'text', x: yNameX[gi], y: 286, rotation: Math.PI / 2,
    style: {text: yName, fontFamily: FONT, fontSize: 19, fill: '#000', align: 'center', verticalAlign: 'middle',
      rich: {sup: {fontFamily: FONT, fontSize: 12, fill: '#000', verticalAlign: 'top', lineHeight: 19}}}});
});

const chart = echarts.init(document.getElementById('c'), null, {renderer: 'canvas'});
chart.setOption({
  animation: false,
  backgroundColor: '#fff',
  grid: grids,
  xAxis: xAxes,
  yAxis: yAxes,
  series: series,
  graphic: graphics
});
</script>
</body></html>
